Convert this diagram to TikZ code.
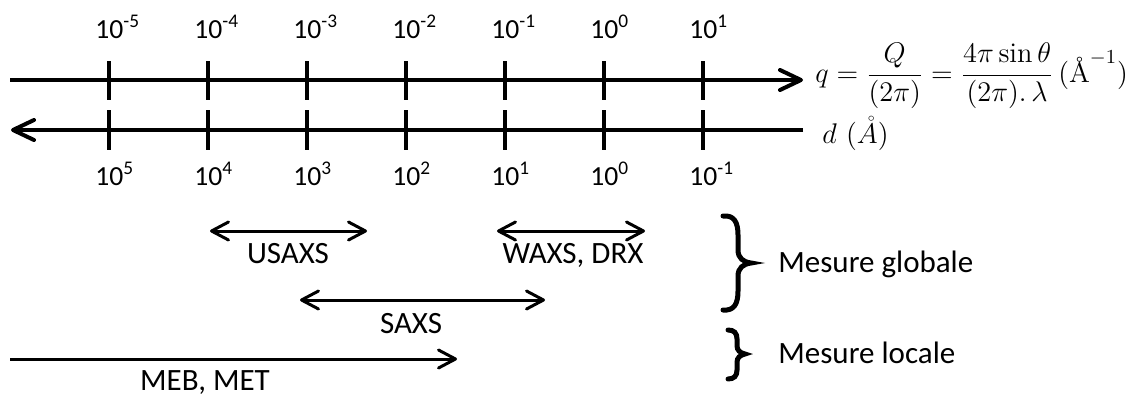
\RequirePackage{fix-cm}
\documentclass[tikz,border=0pt]{standalone}
\usepackage{fontspec}
\usepackage{amsmath,amssymb}
\newfontfamily\carlito{Carlito}
\usetikzlibrary{arrows.meta}

\begin{document}
\begin{tikzpicture}[x=0.5pt, y=-0.5pt,
        axis/.style={line width=2pt, -{Straight Barb[length=10.5pt, width=10pt, round]}},
        spanarrow/.style={line width=1.5pt, {Straight Barb[length=8.5pt, width=9pt, round]}-{Straight Barb[length=8.5pt, width=9pt, round]}},
        onesided/.style={line width=1.5pt, -{Straight Barb[length=8.5pt, width=9pt, round]}},
        ticklabel/.style={anchor=base west, inner sep=0pt, font=\carlito\fontsize{13.8}{16}\selectfont},
        lbl/.style={anchor=base, inner sep=0pt, font=\carlito\fontsize{15.5}{18}\selectfont},
        bracestyle/.style={line width=2.5pt, line cap=round}]
        \useasboundingbox (0, 0) rectangle (1138, 396);

        % the two scales
        \coordinate (qL) at (10, 80);
        \coordinate (qR) at (803, 80);
        \coordinate (dL) at (11, 130);
        \coordinate (dR) at (803, 130);
        \draw[axis] (qL) -- (qR);
        \draw[axis] (dR) -- (dL);
        \foreach \i/\up/\dn in {0/-5/5, 1/-4/4, 2/-3/3, 3/-2/2, 4/-1/1, 5/0/0, 6/1/-1}{
            \draw[line width=2pt] (109+99*\i, 61) -- (109+99*\i, 100);
            \draw[line width=2pt] (109+99*\i, 110) -- (109+99*\i, 150);
            \node[ticklabel] (up\i) at (95+99*\i, 38) {10\textsuperscript{\up}};
            \node[ticklabel] (dn\i) at (95+99*\i, 185) {10\textsuperscript{\dn}};
        }
        \node[anchor=west, inner sep=0pt, font=\fontsize{14.2}{17}\selectfont] (qeq) at (815, 76)
            {$\displaystyle q=\frac{Q}{(2\pi)}=\frac{4\pi\sin\theta}{(2\pi).\,\lambda}\,(\text{Å}^{-1})$};
        \node[anchor=west, inner sep=0pt, font=\fontsize{14.2}{17}\selectfont] (deq) at (822, 134)
            {$d\ (\mathring{A})$};

        % techniques
        \coordinate (usA) at (210, 231);
        \coordinate (usB) at (367, 231);
        \coordinate (waA) at (497, 231);
        \coordinate (waB) at (645, 231);
        \coordinate (saA) at (300, 300);
        \coordinate (saB) at (545, 300);
        \coordinate (meA) at (10, 359);
        \coordinate (meB) at (457, 359);
        \draw[spanarrow] (usA) -- (usB);
        \draw[spanarrow] (waA) -- (waB);
        \draw[spanarrow] (saA) -- (saB);
        \draw[onesided] (meA) -- (meB);
        \node[lbl] (usaxs) at (288, 263) {USAXS};
        \node[lbl] (waxs) at (573, 263) {WAXS, DRX};
        \node[lbl] (saxs) at (411, 333) {SAXS};
        \node[lbl] (meb) at (205, 390) {MEB, MET};

        % braces
        \draw[bracestyle] (723, 216) .. controls (734, 215) and (738, 222) .. (738, 235) -- (738, 250)
            .. controls (738, 258) and (743, 262) .. (751, 263) .. controls (743, 264) and (738, 268) .. (738, 276)
            -- (738, 291) .. controls (738, 304) and (734, 311) .. (723, 310);
        \draw[bracestyle] (728, 330) .. controls (734, 330) and (737, 333) .. (737, 339) -- (737, 346)
            .. controls (737, 350) and (740, 353) .. (745, 354) .. controls (740, 355) and (737, 358) .. (737, 362)
            -- (737, 370) .. controls (737, 376) and (734, 379) .. (728, 379);
        \node[lbl, anchor=base west] (glob) at (778, 272) {Mesure globale};
        \node[lbl, anchor=base west] (loc) at (778, 363) {Mesure locale};
\end{tikzpicture}
\end{document}
